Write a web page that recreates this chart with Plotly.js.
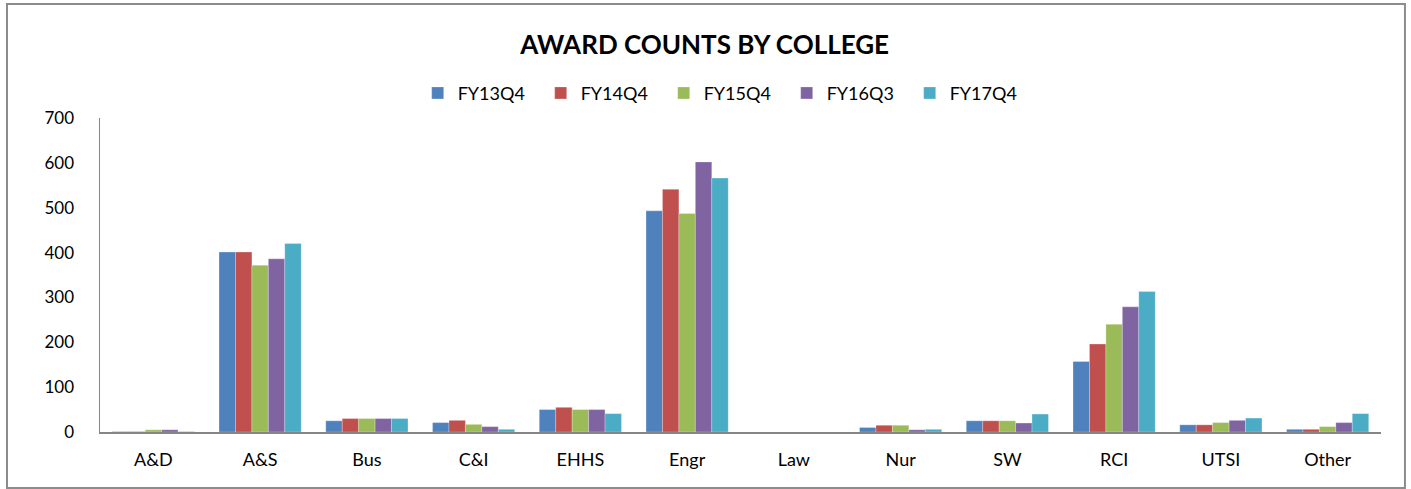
<!DOCTYPE html>
<html>
<head>
<meta charset="utf-8">
<script src="https://cdn.plot.ly/plotly-3.0.1.min.js"></script>
<style>
html,body{margin:0;padding:0;background:#fff;}
#chart{width:1411px;height:489px;}
</style>
</head>
<body>
<div id="chart"></div>
<script>
const categories = ["A&D","A&S","Bus","C&I","EHHS","Engr","Law","Nur","SW","RCI","UTSI","Other"];
const seriesNames = ["FY13Q4","FY14Q4","FY15Q4","FY16Q3","FY17Q4"];
const fy13q4 = [1, 401, 25, 21, 50, 493, 0, 10, 25, 157, 16, 6];
const fy14q4 = [1, 401, 30, 26, 55, 541, 0, 15, 25, 196, 16, 6];
const fy15q4 = [5, 372, 30, 17, 50, 487, 0, 15, 25, 240, 21, 12];
const fy16q3 = [5, 386, 30, 12, 50, 602, 0, 5, 20, 279, 26, 21];
const fy17q4 = [1, 420, 30, 6, 41, 566, 0, 6, 40, 313, 31, 41];
const colors = ["#4F81BD","#C0504D","#9BBB59","#8064A2","#4BACC6"];

const allSeries = [fy13q4, fy14q4, fy15q4, fy16q3, fy17q4];
const font = "Lato, 'Open Sans', sans-serif";
const traces = allSeries.map((vals, i) => ({
  type: "bar",
  name: seriesNames[i],
  x: categories,
  y: vals,
  marker: {color: colors[i], line: {color: "rgba(255,255,255,0.5)", width: 0.5}},
  hoverinfo: "x+y+name"
}));

const layout = {
  width: 1411, height: 489,
  paper_bgcolor: "#fff", plot_bgcolor: "#fff",
  margin: {l: 100, r: 30, t: 118, b: 57},
  barmode: "group",
  bargap: 0.23,
  bargroupgap: 0,
  title: {text: "<b>AWARD COUNTS BY COLLEGE</b>", x: 0.472, xref: "paper", xanchor: "center",
          y: 0.909, yref: "container", yanchor: "middle",
          font: {family: font, size: 26, color: "#000"}},
  showlegend: true,
  legend: {orientation: "h", x: 0.248, xanchor: "left", y: 1.02, yanchor: "bottom",
           entrywidth: 78, entrywidthmode: "pixels",
           font: {family: font, size: 18, color: "#000"}, itemwidth: 30, traceorder: "normal", itemclick: false},
  xaxis: {showgrid: false, showline: true, linecolor: "#868686", linewidth: 2, ticks: "",
          tickfont: {family: font, size: 18, color: "#000"}, zeroline: false, fixedrange: true,
          ticklabelstandoff: 10},
  yaxis: {range: [0, 700], dtick: 100, showgrid: false, showline: true, linecolor: "#868686", linewidth: 1.5,
          ticks: "", ticklen: 0, tickfont: {family: font, size: 17, color: "#000"}, zeroline: false,
          ticklabelstandoff: 21, fixedrange: true},
  shapes: [{type: "rect", xref: "paper", yref: "paper", x0: -0.0726, x1: 1.0187, y0: -0.178, y1: 1.363,
            line: {color: "#8c8c8c", width: 2}, fillcolor: "rgba(0,0,0,0)", layer: "below"}]
};
Plotly.newPlot("chart", traces, layout, {displayModeBar: false, staticPlot: true});
</script>
</body>
</html>
